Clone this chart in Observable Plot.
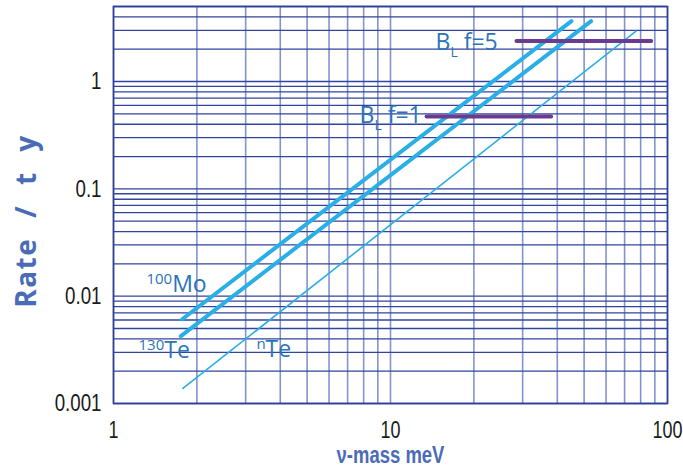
<!DOCTYPE html>
<html>
<head>
<meta charset="utf-8">
<script src="https://cdn.jsdelivr.net/npm/d3@7"></script>
<script src="https://cdn.jsdelivr.net/npm/@observablehq/plot@0.6"></script>
<style>
  html, body { margin: 0; padding: 0; background: #fff; }
  #chart { width: 683px; height: 470px; }
</style>
</head>
<body>
<div id="chart"></div>
<script>
// ---- data ----
const xGrid = [1, 2, 3, 4, 5, 6, 7, 8, 9, 10, 20, 30, 40, 50, 60, 70, 80, 90, 100];
const yGrid = [0.001, 0.002, 0.003, 0.004, 0.005, 0.006, 0.007, 0.008, 0.009,
               0.01, 0.02, 0.03, 0.04, 0.05, 0.06, 0.07, 0.08, 0.09,
               0.1, 0.2, 0.3, 0.4, 0.5, 0.6, 0.7, 0.8, 0.9,
               1, 2, 3, 4, 5];
const xTicks = [1, 10, 100];
const yTicks = [0.001, 0.01, 0.1, 1];

const moMass = [1.77, 45];      const moRate = [0.0061, 3.65];
const te130Mass = [1.75, 53];   const te130Rate = [0.00424, 3.65];
const nTeMass = [1.78, 77];     const nTeRate = [0.00138, 2.95];
const bl5Mass = [28.5, 87.3];   const bl5Rate = [2.38, 2.38];
const bl1Mass = [13.5, 38];     const bl1Rate = [0.473, 0.473];

const annotations = [
  {x: 1.315, y: 0.0110, parts: [["100", "sup"], ["Mo", "n"]]},
  {x: 1.231, y: 0.00264, parts: [["130", "sup"], ["Te", "n"]]},
  {x: 3.28, y: 0.0027, parts: [["n", "sup"], ["Te", "n"]]},
  {x: 14.54, y: 1.962, parts: [["B", "n"], ["L", "sub"], [" f=5", "n"]]},
  {x: 7.73, y: 0.409, parts: [["B", "n"], ["L", "sub"], [" f=1", "n"]]}
];

const toPts = (xs, ys) => xs.map((x, i) => ({x, y: ys[i]}));

const tickFont = "'Liberation Sans', 'Arial', sans-serif";

const plot = Plot.plot({
  width: 683,
  height: 470,
  marginLeft: 113,
  marginRight: 16,
  marginTop: 6,
  marginBottom: 67,
  style: {fontFamily: "'Open Sans', sans-serif", background: "#fff"},
  x: {type: "log", domain: [1, 100], axis: null},
  y: {type: "log", domain: [0.001, 5], axis: null},
  marks: [
    Plot.ruleX(xGrid, {x: d => d, stroke: "#8493cd", strokeWidth: 1.6}),
    Plot.ruleY(yGrid, {y: d => d, stroke: "#32459e", strokeWidth: 1.3}),
    Plot.frame({stroke: "#2d3f99", strokeWidth: 1.6}),
    Plot.axisX(xTicks, {tickSize: 0, tickPadding: 18, fontSize: 23, fill: "#1a1a1a",
      fontFamily: tickFont, tickFormat: d => String(d), label: null, ariaDescription: "xtick"}),
    Plot.axisY(yTicks, {tickSize: 0, tickPadding: 12, fontSize: 24, fill: "#1a1a1a",
      fontFamily: tickFont, tickFormat: d => String(d), label: null, ariaDescription: "ytick"}),
    Plot.line(toPts(nTeMass, nTeRate), {x: "x", y: "y", stroke: "#2aaee6", strokeWidth: 1.6}),
    Plot.line(toPts(moMass, moRate), {x: "x", y: "y", stroke: "#2aaee6", strokeWidth: 4}),
    Plot.line(toPts(te130Mass, te130Rate), {x: "x", y: "y", stroke: "#2aaee6", strokeWidth: 4}),
    Plot.line(toPts(bl5Mass, bl5Rate), {x: "x", y: "y", stroke: "#6a3b8e", strokeWidth: 4}),
    Plot.line(toPts(bl1Mass, bl1Rate), {x: "x", y: "y", stroke: "#6a3b8e", strokeWidth: 4}),
    Plot.text(annotations, {x: "x", y: "y", text: d => d.parts.map(p => p[0]).join(""),
      textAnchor: "start", fontSize: 23, fill: "#2b74b9", ariaDescription: "annot"}),
    Plot.text(["ν-mass meV"], {frameAnchor: "bottom", dy: 52, text: d => d,
      textAnchor: "middle", lineAnchor: "middle",
      fontSize: 24, fontWeight: "bold", fill: "#4a6cb8", fontFamily: tickFont, ariaDescription: "xtitle"}),
    Plot.text(["Rate / t y"], {frameAnchor: "left", dx: -86, dy: 16, rotate: -90, text: d => d,
      textAnchor: "middle", lineAnchor: "middle",
      fontSize: 28, fontWeight: "bold", fill: "#4a6cb8", ariaDescription: "ytitle"})
  ]
});

document.getElementById("chart").appendChild(plot);

const sel = name => plot.querySelectorAll(`g[aria-description="${name}"] text`);

// rich text (superscripts / subscripts) for annotations
sel("annot").forEach((t, i) => {
  const parts = annotations[i].parts;
  t.textContent = "";
  t.removeAttribute("y");
  t.removeAttribute("dy");
  let shift = 0;
  parts.forEach(([s, kind]) => {
    const ts = document.createElementNS("http://www.w3.org/2000/svg", "tspan");
    const target = kind === "sup" ? -8 : kind === "sub" ? 7 : 0;
    ts.setAttribute("dy", target - shift);
    shift = target;
    if (kind !== "n") ts.setAttribute("font-size", kind === "sup" ? 15 : 14);
    ts.textContent = s;
    t.appendChild(ts);
  });
});

// condensed look for tick labels and x title
const squeeze = (name, k) => sel(name).forEach(t => {
  const tr = t.getAttribute("transform") || "";
  t.setAttribute("transform", tr + ` scale(${k},1)`);
});
squeeze("xtick", 0.78);
squeeze("ytick", 0.78);
squeeze("xtitle", 0.77);

sel("ytitle").forEach(t => { t.style.letterSpacing = "1.5px"; t.style.wordSpacing = "11px"; });
</script>
</body>
</html>
